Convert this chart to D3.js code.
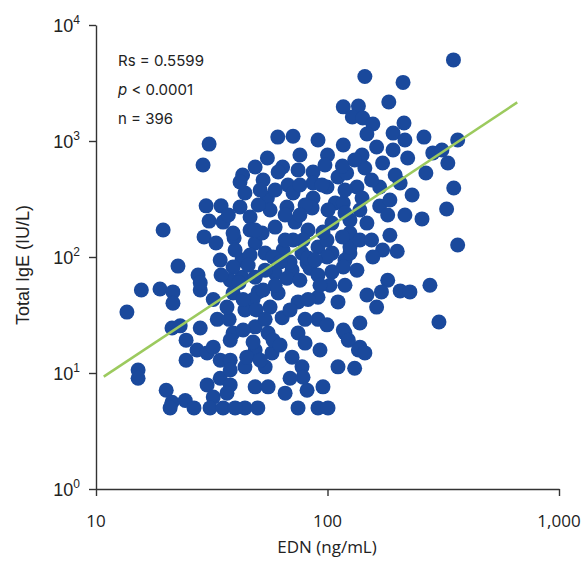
<!DOCTYPE html>
<html>
<head>
<meta charset="utf-8">
<script src="https://cdn.jsdelivr.net/npm/d3@7"></script>
<style>
  body { margin: 0; background: #fff; }
  svg { display: block; }
  .axis path, .axis line { stroke: #333; stroke-width: 1.4; }
  .ytick { font-family: "Liberation Sans", Arial, sans-serif; font-size: 18px; fill: #222; }
  .xtick { font-family: "Open Sans", sans-serif; font-size: 17px; fill: #222; }
  .note { font-family: Inter, "Liberation Sans", sans-serif; font-size: 15px; fill: #222; }
</style>
</head>
<body>
<div id="chart"></div>
<script>
// EDN (ng/mL) and total IgE (IU/L)
const edn = [
  350, 145, 212, 117, 136, 184, 128, 142, 157, 214, 148, 192, 216, 261, 365, 285, 312, 331, 266, 351,
  327, 365, 277, 303, 30.8, 29, 61, 71, 91, 117, 76, 100, 55, 48.7, 64, 43, 86.6, 111, 52.7, 67.5,
  86.6, 44, 55, 71, 86.6, 108, 66.8, 85.8, 46.3, 59.4, 72.4, 82.4, 104.5, 125, 48.7, 53.8, 64.3, 77.6, 91, 104.5,
  119, 42.7, 42.7, 48.7, 59.4, 70.3, 84, 104.5, 50.2, 61.2, 74.6, 91, 111, 44, 63.7, 91, 48.7, 55.4, 74.6, 119,
  80, 48.7, 57.6, 70.3, 44, 53.8, 77.6, 111, 131, 48.7, 55.4, 65.6, 81.6, 95.6, 44, 50, 74.6, 91, 100.5,
  163, 192, 145, 173, 222, 121, 134, 168, 206, 232, 168, 138, 117, 216, 256, 148, 125, 173, 200, 157,
  125, 117, 134, 182, 171, 206, 227, 148, 163, 138, 138, 99.5, 78.4, 99.5, 125, 99.5, 81.6, 99.5, 117, 123,
  136, 145, 78.4, 19.5, 22.6, 29.9, 34.7, 30.8, 35.4, 29.3, 33, 39.5, 41.9, 41.9, 39.1, 39.9, 58.2, 27.6, 34.4, 39.1,
  38, 28.2, 15.7, 18.9, 21.5, 21.5, 13.6, 21.3, 23.1, 24.5, 28.2, 32.1, 33.4, 37.6, 24.5, 27.3, 30.2, 34.4, 38, 15.2,
  15.2, 20.1, 21.3, 24.3, 26.5, 20.9, 30.2, 34.4, 38, 32.1, 31.1, 35.4, 39.9, 36.8, 28.2, 39.1, 47.7, 39.1, 44.8, 51.2,
  68.9, 32.1, 38, 46.3, 71,
  61.2, 37.3, 52.2, 46.3, 45.4, 53.8, 68.9, 141, 74.6, 116, 94.7, 141, 100.5, 116, 138, 82.4, 34.7, 41.5, 66.8, 91,
  82.4, 36.8, 43.2, 49.2, 56.5, 43.2, 58.2, 38, 47.7,
  80, 95.6, 119, 76, 65.6, 56.5, 50.2, 59.4, 76, 48.7, 65.6, 88.3, 76, 59.4, 102.5, 119, 68.9, 80, 53.8, 62.4,
  92.8, 186, 196, 155, 131, 182, 155, 186,
  97.5, 51.2, 119, 62.4, 92.8, 52.7
];
const ige = [
  5000, 3600, 3200, 1970, 2000, 2170, 1610, 1580, 1400, 1430, 1150, 1170, 1020, 1080, 1020, 790, 836, 646, 530, 393,
  259, 127, 57, 27.5, 940, 621, 1080, 1100, 1020, 924, 757, 757, 714, 597, 597, 509, 541, 489, 461, 417,
  434, 356, 323, 356, 323, 292, 270, 265, 221, 181, 200, 171, 196, 208, 132, 108, 115, 108, 122, 108,
  94, 94, 67, 67, 73, 77, 80, 74.5, 50, 49, 41, 45, 41, 35, 30, 29, 25, 22.1, 22.1, 22.1,
  18.1, 15.8, 14.9, 13.7, 11.3, 11.3, 11.3, 11.3, 11, 7.6, 7.6, 6.7, 7.1, 7.6, 5, 5, 5, 5, 5,
  888, 836, 585, 646, 714, 530, 401, 401, 434, 342, 275, 254, 292, 230, 213, 196, 161, 115, 112, 100,
  108, 82, 77, 63, 50, 51, 50, 47, 37, 27, 16.7, 401, 140, 140, 122, 100, 89, 26, 23.5, 19.2,
  15.8, 14.9, 9.2, 171, 83.5, 276, 276, 204, 200, 149, 132, 146, 443, 270, 161, 115, 100, 70, 94, 82,
  63, 52, 52, 53, 50, 40, 33.5, 24.4, 25.5, 19.2, 24.4, 43, 29, 29, 12.9, 15.8, 14.9, 12.9, 12.9, 10.6,
  9, 7.1, 5.6, 5.8, 5, 5, 7.9, 9, 7.9, 6.2, 5, 5, 5, 6.7, 60, 49, 43, 22.1, 13.7, 12.9,
  9, 16.7, 10.6, 171, 140,
  541, 230, 161, 104, 85, 77, 90.5, 757, 562, 609, 417, 323, 254, 149, 140, 98, 70, 60, 65.5, 70,
  43, 37, 43, 35, 37, 23.5, 19.2, 19.2, 18.5,
  281, 164, 378, 230, 230, 254, 281, 378, 417, 171, 140, 94, 63, 57, 57, 57, 35, 29, 29, 17.4,
  15.8, 310, 509, 461, 686, 230, 140, 154,
  621, 378, 239, 90.5, 57, 52
];

// log-log fit drawn in the figure: log10(IgE) = a + b * log10(EDN)
const fitIntercept = -0.399;
const fitSlope = 1.3235;
const fitRange = [10.8, 660];

const xTicks = [10, 100, 1000];
const xTickLabels = ["10", "100", "1,000"];
const yTicks = [1, 10, 100, 1000, 10000];
const yTickExp = ["0", "1", "2", "3", "4"];
const notes = ["Rs = 0.5599", "< 0.0001", "n = 396"];

const width = 587, height = 562;
const margin = { top: 25, right: 28, bottom: 73, left: 96 };

const svg = d3.select("#chart").append("svg")
  .attr("width", width)
  .attr("height", height);

const x = d3.scaleLog()
  .domain([10, 1000])
  .range([margin.left, width - margin.right]);
const y = d3.scaleLog()
  .domain([1, 10000])
  .range([height - margin.bottom, margin.top]);

const points = edn.map((d, i) => ({ edn: d, ige: ige[i] }));

// axes
svg.append("g")
  .attr("class", "axis")
  .attr("transform", `translate(0,${height - margin.bottom})`)
  .call(d3.axisBottom(x).tickValues(xTicks).tickFormat("").tickSize(7).tickSizeOuter(0));

svg.append("g")
  .attr("class", "axis")
  .attr("transform", `translate(${margin.left},0)`)
  .call(d3.axisLeft(y).tickValues(yTicks).tickFormat("").tickSize(7).tickSizeOuter(0));

svg.selectAll(".xtick")
  .data(xTicks)
  .join("text")
  .attr("class", "xtick")
  .attr("x", (d) => x(d))
  .attr("y", height - margin.bottom + 38)
  .attr("text-anchor", "middle")
  .text((d, i) => xTickLabels[i]);

const yLab = svg.selectAll(".ytick")
  .data(yTicks)
  .join("text")
  .attr("class", "ytick")
  .attr("x", margin.left - 16)
  .attr("y", (d) => y(d) + 7)
  .attr("text-anchor", "end");
yLab.append("tspan").text("10");
yLab.append("tspan")
  .attr("font-size", 12)
  .attr("dy", -8)
  .text((d, i) => yTickExp[i]);

// titles
svg.append("text")
  .attr("class", "xtick")
  .attr("x", 327)
  .attr("y", height - 9)
  .attr("text-anchor", "middle")
  .text("EDN (ng/mL)");

svg.append("text")
  .attr("class", "ytick")
  .attr("font-size", 17)
  .attr("transform", `translate(29,${(margin.top + height - margin.bottom) / 2 + 8}) rotate(-90)`)
  .attr("text-anchor", "middle")
  .text("Total IgE (IU/L)");

// dots
svg.append("g")
  .selectAll("circle")
  .data(points)
  .join("circle")
  .attr("cx", (d) => x(d.edn))
  .attr("cy", (d) => y(d.ige))
  .attr("r", 7.5)
  .attr("fill", "#1a499c");

// regression line
svg.append("line")
  .attr("x1", x(fitRange[0]))
  .attr("y1", y(Math.pow(10, fitIntercept + fitSlope * Math.log10(fitRange[0]))))
  .attr("x2", x(fitRange[1]))
  .attr("y2", y(Math.pow(10, fitIntercept + fitSlope * Math.log10(fitRange[1]))))
  .attr("stroke", "#9cca5e")
  .attr("stroke-width", 2.5);

// statistics
const note = svg.append("g").attr("class", "note");
note.append("text").attr("x", 118).attr("y", 66).text(notes[0]);
const pLine = note.append("text").attr("x", 118).attr("y", 95);
pLine.append("tspan").attr("font-style", "italic").text("p");
pLine.append("tspan").text(" " + notes[1]);
note.append("text").attr("x", 118).attr("y", 124).text(notes[2]);
</script>
</body>
</html>
